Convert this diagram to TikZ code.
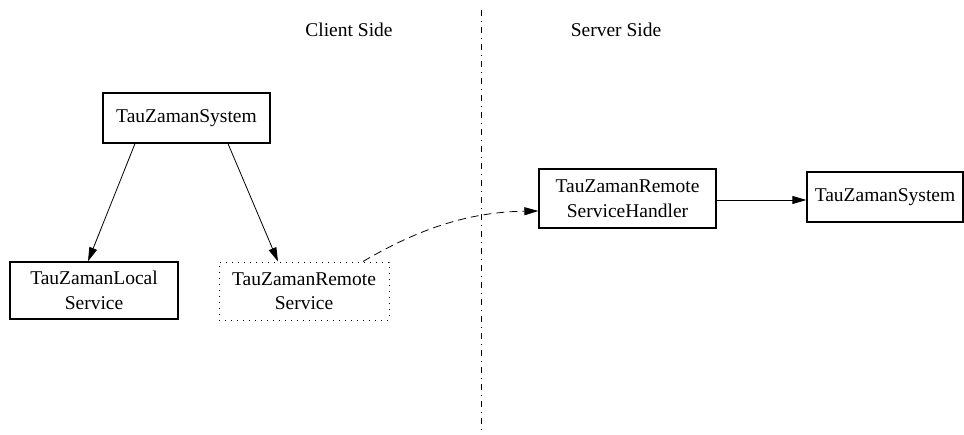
\documentclass[tikz,border=0pt]{standalone}
\usepackage{fontspec}
\setmainfont{Liberation Serif}
\usetikzlibrary{arrows.meta}

\begin{document}
\begin{tikzpicture}[
  x=1pt, y=-1pt,
  every node/.style={font=\fontsize{19.5}{24.5}\selectfont, inner sep=0pt, align=center},
  box/.style={draw, line width=1.3pt, rectangle},
  ghostbox/.style={draw, line width=1pt, rectangle, dash pattern=on 1pt off 5pt},
  link/.style={line width=0.8pt, -{Triangle[length=14pt,width=8pt]}},
  remotelink/.style={link, dash pattern=on 8pt off 5pt},
  divider/.style={line width=0.8pt, dash pattern=on 6pt off 5pt on 1pt off 5pt}
]
\useasboundingbox (0,0) rectangle (964,434);

% side labels and the divider between them
\node (client) at (349,30) {Client Side};
\node (server) at (616,30) {Server Side};
\coordinate (divtop) at (481,10);
\coordinate (divbot) at (481,434);
\draw[divider] (divtop) -- (divbot);

% client side
\node[box, minimum width=167pt, minimum height=50pt] (sysL) at (186.5,118) {TauZamanSystem};
\node[box, minimum width=168pt, minimum height=57pt] (local) at (94,290.5) {TauZamanLocal\\Service};
\node[ghostbox, minimum width=170pt, minimum height=58pt] (remote) at (304,291) {TauZamanRemote\\Service};

% server side
\node[box, minimum width=177pt, minimum height=59pt] (handler) at (627.5,198.5) {TauZamanRemote\\ServiceHandler};
\node[box, minimum width=156pt, minimum height=50pt] (sysR) at (885,197) {TauZamanSystem};

% connectors
\draw[link] ([xshift=-51.5pt]sysL.south) -- ([xshift=-6pt]local.north);
\draw[link] ([xshift=41.5pt]sysL.south) -- ([xshift=-26pt]remote.north);
\draw[remotelink] ([xshift=59pt]remote.north) .. controls (420,228) and (470,212) .. ([yshift=-12.5pt]handler.west);
\draw[link] ([yshift=-1.5pt]handler.east) -- ([yshift=-3pt]sysR.west);
\end{tikzpicture}
\end{document}
